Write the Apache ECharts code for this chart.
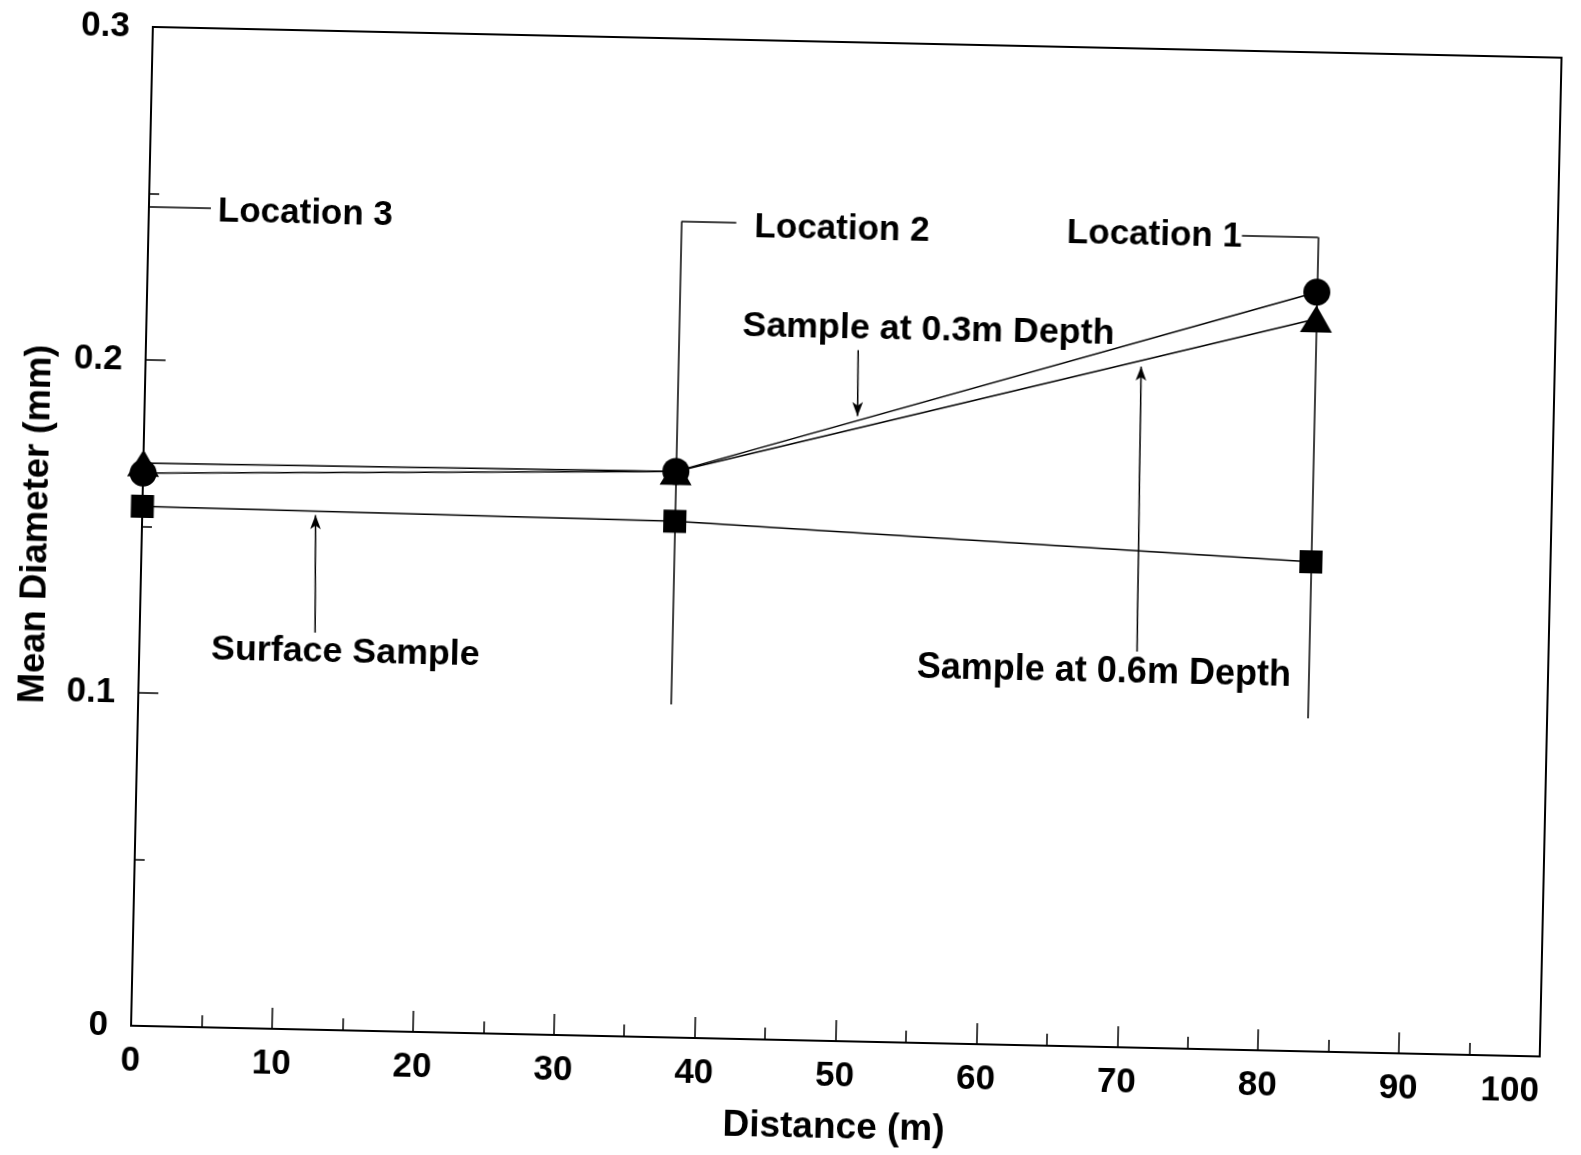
<!DOCTYPE html>
<html>
<head>
<meta charset="utf-8">
<title>Mean Diameter vs Distance</title>
<script src="https://cdn.jsdelivr.net/npm/echarts@6/dist/echarts.min.js"></script>
<style>
  html, body { margin: 0; padding: 0; background: #fff; overflow: hidden; }
  #chart {
    width: 1581px; height: 1155px; background: #fff;
    transform: rotate(1.25deg); transform-origin: 50% 50%;
  }
</style>
</head>
<body>
<div id="chart"></div>
<script>
// Sampling locations along the transect (m)
const distances = [0, 37.8, 83.0];
const locationNames = ['Location 3', 'Location 2', 'Location 1'];

// Mean grain diameter (mm) at each location
const surfaceSample = [0.156, 0.155, 0.147];
const depth03Sample = [0.166, 0.170, 0.228];
const depth06Sample = [0.169, 0.170, 0.220];

// Axis ranges
const xRange = [0, 100];
const yRange = [0, 0.3];

const FONT = "'Liberation Sans', Arial, Helvetica, sans-serif";
const BLACK = '#000';

const pairs = (ys) => distances.map((d, i) => [d, ys[i]]);

// Leader lines (data coordinates): [from, to, arrowAtEnd]
const leaders = [
  [[distances[0], 0.246], [4.4, 0.246], false],
  [[distances[1], 0.245], [41.7, 0.245], false],
  [[distances[1], 0.245], [distances[1], 0.1], false],
  [[77.6, 0.2445], [distances[2], 0.2445], false],
  [[distances[2], 0.2445], [distances[2], 0.1], false],
  [[50.55, 0.2076], [50.6, 0.1878], true],
  [[70.8, 0.1189], [70.65, 0.2045], true],
  [[12.45, 0.1192], [12.3, 0.1545], true]
];

// Annotation texts: [text, x, y, align, fontSize]
const notes = [
  [locationNames[0], 4.9, 0.2449, 'left', 35],
  [locationNames[1], 43.0, 0.2436, 'left', 35],
  [locationNames[2], 77.6, 0.2440, 'right', 35],
  ['Sample at 0.3m Depth', 42.3, 0.2140, 'left', 35.8],
  ['Sample at 0.6m Depth', 55.2, 0.1126, 'left', 36],
  ['Surface Sample', 5.1, 0.1134, 'left', 35.8]
];

const chart = echarts.init(document.getElementById('chart'), null, { renderer: 'canvas' });

const axisText = { color: BLACK, fontWeight: 'bold', fontFamily: FONT };

const baseSeries = {
  type: 'line',
  clip: false,
  lineStyle: { color: BLACK, width: 1.5 },
  itemStyle: { color: BLACK, borderWidth: 0 },
  emphasis: { disabled: true },
  animation: false
};

chart.setOption({
  animation: false,
  backgroundColor: '#fff',
  grid: {
    left: 141, right: 31, top: 41, bottom: 115,
    show: true, borderColor: BLACK, borderWidth: 2, backgroundColor: 'transparent'
  },
  xAxis: {
    type: 'value', min: xRange[0], max: xRange[1], interval: 10,
    name: 'Distance (m)', nameLocation: 'middle', nameGap: 68,
    nameTextStyle: Object.assign({ fontSize: 37 }, axisText),
    axisLine: { show: true, onZero: false, lineStyle: { color: BLACK, width: 2 } },
    axisTick: { show: true, inside: true, length: 21, lineStyle: { color: BLACK, width: 1.5 } },
    minorTick: { show: true, splitNumber: 2, length: 12, lineStyle: { color: BLACK, width: 1.5 } },
    axisLabel: Object.assign({ margin: 18, fontSize: 35, showMinLabel: true, showMaxLabel: true,
      alignMaxLabel: 'right' }, axisText),
    splitLine: { show: false },
    minorSplitLine: { show: false }
  },
  yAxis: {
    type: 'value', min: yRange[0], max: yRange[1], interval: 0.1,
    name: 'Mean Diameter (mm)', nameLocation: 'middle', nameGap: 87,
    nameTextStyle: Object.assign({ fontSize: 36.5 }, axisText),
    axisLine: { show: true, onZero: false, lineStyle: { color: BLACK, width: 2 } },
    axisTick: { show: true, inside: true, length: 20, lineStyle: { color: BLACK, width: 1.5 } },
    minorTick: { show: true, splitNumber: 2, length: 10, lineStyle: { color: BLACK, width: 1.5 } },
    axisLabel: Object.assign({ margin: 23, fontSize: 35, showMinLabel: true, showMaxLabel: true,
      formatter: (v) => (Math.round(v * 10) / 10).toString() }, axisText),
    splitLine: { show: false },
    minorSplitLine: { show: false }
  },
  series: [
    Object.assign({}, baseSeries, {
      name: 'Surface Sample',
      data: pairs(surfaceSample),
      symbol: 'rect', symbolSize: 23, z: 3,
      markLine: {
        silent: true, animation: false,
        label: { show: false },
        lineStyle: { color: BLACK, width: 1.5, type: 'solid' },
        emphasis: { disabled: true },
        data: leaders.map(([a, b, arrow]) => [
          { coord: a, symbol: 'none' },
          { coord: b, symbol: arrow ? 'arrow' : 'none', symbolSize: arrow ? [8, 14] : 0 }
        ])
      }
    }),
    Object.assign({}, baseSeries, {
      name: 'Sample at 0.3m Depth',
      data: pairs(depth03Sample),
      symbol: 'circle', symbolSize: 27, z: 4
    }),
    Object.assign({}, baseSeries, {
      name: 'Sample at 0.6m Depth',
      data: pairs(depth06Sample),
      symbol: 'triangle', symbolSize: [32, 27], z: 5
    })
  ]
});

chart.setOption({
  graphic: notes.map(([text, x, y, align, size]) => {
    const [px, py] = chart.convertToPixel({ gridIndex: 0 }, [x, y]);
    return {
      type: 'text', x: px, y: py, silent: true, z: 10,
      style: {
        text: text, fill: BLACK,
        font: 'bold ' + size + 'px ' + FONT,
        align: align, verticalAlign: 'middle'
      }
    };
  })
});
</script>
</body>
</html>
